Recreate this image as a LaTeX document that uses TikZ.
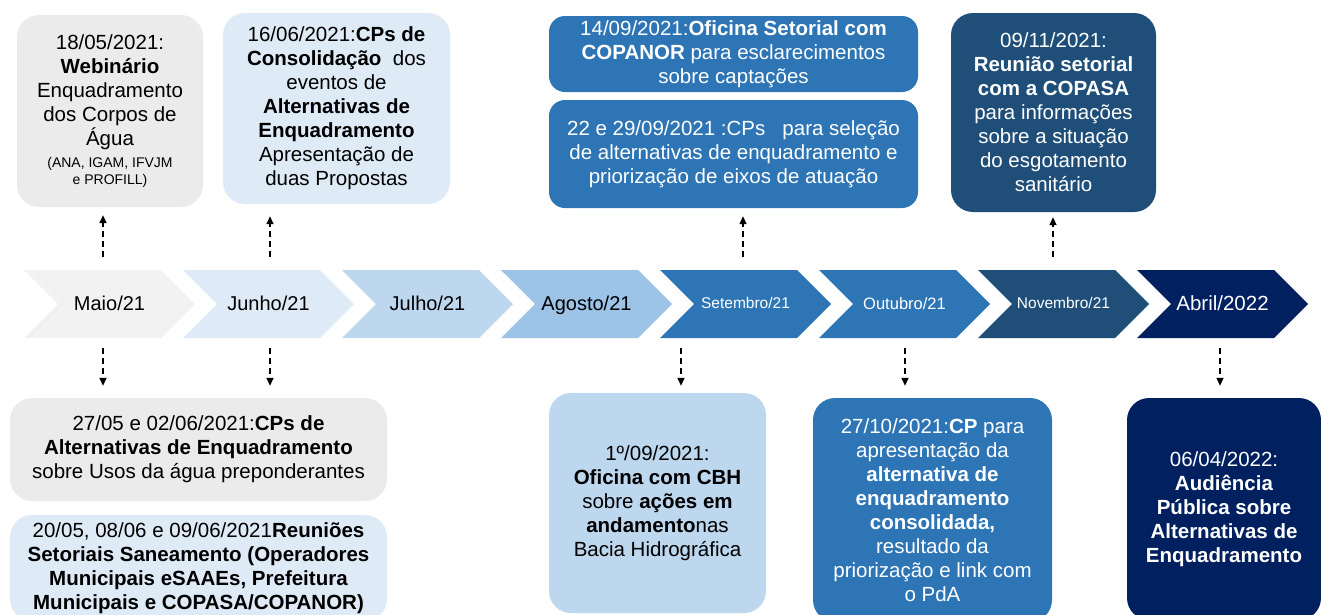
\documentclass[tikz,border=0pt]{standalone}
\usepackage{fontspec}
\setmainfont{Liberation Sans}
\usetikzlibrary{shapes.symbols,arrows.meta}
\definecolor{mgray}{HTML}{F2F2F2}
\definecolor{bgray}{HTML}{EBEBEB}
\definecolor{pale}{HTML}{DEEBF7}
\definecolor{light}{HTML}{BDD7EE}
\definecolor{sky}{HTML}{9DC3E6}
\definecolor{mid}{HTML}{2E75B6}
\definecolor{deep}{HTML}{1F4E79}
\definecolor{navy}{HTML}{002060}
\tikzstyle{month}=[signal,signal from=west,signal to=east,minimum width=171pt,minimum height=68pt,inner sep=0pt]
\tikzstyle{event}=[rounded corners=22pt,align=center,inner sep=0pt,font=\fontsize{20.5}{24}\selectfont]
\tikzstyle{link}=[draw,line width=1.5pt,dash pattern=on 6pt off 4pt,-{Triangle[length=8pt,width=7pt]}]

\begin{document}
\begin{tikzpicture}[x=1pt,y=-1pt]
    \useasboundingbox (0,0) rectangle (1321,614);
    \clip (0,0) rectangle (1321,614);
	\foreach \k/\name/\col/\tcol/\fs/\txt in {0/mai/mgray/black/20/{Maio/21}, 1/jun/pale/black/20/{Junho/21},
                            2/jul/light/black/20/{Julho/21}, 3/ago/sky/black/20/{Agosto/21},
                            4/set/mid/white/15.5/{Setembro/21}, 5/out/mid/white/16.5/{Outubro/21},
                            6/nov/deep/white/15.5/{Novembro/21}, 7/abr/navy/white/20.5/{Abril/2022}}
        \node[month,fill=\col,text=\tcol,font=\fontsize{\fs}{\fs}\selectfont] (\name) at (109.5+159*\k,304)
            {\raisebox{0pt}[0.75em][0.12em]{\txt}};

    \node[event,fill=bgray,minimum width=186pt,minimum height=192pt] (ev1) at (110,111)
        {18/05/2021:\\\textbf{Webinário}\\Enquadramento\\dos Corpos de\\Água\\[-2pt]{\fontsize{14}{17}\selectfont(ANA, IGAM, IFVJM}\\[-7pt]{\fontsize{14}{17}\selectfont e PROFILL)}};
    \node[event,fill=pale,minimum width=227pt,minimum height=191pt] (ev2) at (336.5,108.5)
        {16/06/2021:\textbf{CPs de}\\\textbf{Consolidação}\ \ dos\\eventos de\\\textbf{Alternativas de}\\\textbf{Enquadramento}\\Apresentação de\\duas Propostas};
    \node[event,rounded corners=16pt,fill=mid,text=white,minimum width=369pt,minimum height=76pt] (ev3) at (733.5,54)
        {14/09/2021:\textbf{Oficina Setorial com}\\\textbf{COPANOR} para esclarecimentos\\sobre captações};
    \node[event,rounded corners=16pt,fill=mid,text=white,minimum width=369pt,minimum height=108pt] (ev4) at (733.5,154)
        {22 e 29/09/2021 :CPs\ \ \ para seleção\\de alternativas de enquadramento e\\priorização de eixos de atuação};
    \node[event,fill=deep,text=white,minimum width=205pt,minimum height=199pt] (ev5) at (1053.5,112.5)
        {09/11/2021:\\\textbf{Reunião setorial}\\\textbf{com a COPASA}\\para informações\\sobre a situação\\do esgotamento\\sanitário};
    \node[event,fill=bgray,minimum width=377pt,minimum height=103pt] (ev6) at (198.5,449.5)
        {27/05 e 02/06/2021:\textbf{CPs de}\\\textbf{Alternativas de Enquadramento}\\sobre Usos da água preponderantes};
    \node[event,fill=pale,minimum width=377pt,minimum height=106pt] (ev7) at (198.5,568)
        {20/05, 08/06 e 09/06/2021\textbf{Reuniões}\\\textbf{Setoriais Saneamento (Operadores}\\\textbf{Municipais eSAAEs, Prefeitura}\\\textbf{Municipais e COPASA/COPANOR)}};
    \node[event,fill=light,minimum width=217pt,minimum height=220pt] (ev8) at (657.5,503)
        {1º/09/2021:\\\textbf{Oficina com CBH}\\sobre \textbf{ações em}\\\textbf{andamento}nas\\Bacia Hidrográfica};
    \node[event,fill=mid,text=white,minimum width=239pt,minimum height=224pt] (ev9) at (932.5,510)
        {27/10/2021:\textbf{CP} para\\apresentação da\\\textbf{alternativa de}\\\textbf{enquadramento}\\\textbf{consolidada,}\\resultado da\\priorização e link com\\o PdA};
    \node[event,fill=navy,text=white,minimum width=194pt,minimum height=222pt] (ev10) at (1224,509)
        {06/04/2022:\\\textbf{Audiência}\\\textbf{Pública sobre}\\\textbf{Alternativas de}\\\textbf{Enquadramento}};

    \foreach \mon/\ev/\dx/\gap in {mai/ev1/-6.5pt/8pt, jun/ev2/1.5pt/12pt, set/ev4/-2.5pt/8pt, nov/ev5/-10.5pt/5pt}
        \path[link,shorten <=13pt,shorten >=\gap] ([xshift=\dx]\mon.north) -- ([xshift=\dx]\mon.north |- \ev.south);
    \foreach \mon/\ev/\dx/\gap in {mai/ev6/-6.5pt/12pt, jun/ev6/1.5pt/12pt, set/ev8/-64.5pt/7pt, out/ev9/0.5pt/12pt, abr/ev10/-2.5pt/12pt}
        \path[link,shorten <=10pt,shorten >=\gap] ([xshift=\dx]\mon.south) -- ([xshift=\dx]\mon.south |- \ev.north);
\end{tikzpicture}
\end{document}
